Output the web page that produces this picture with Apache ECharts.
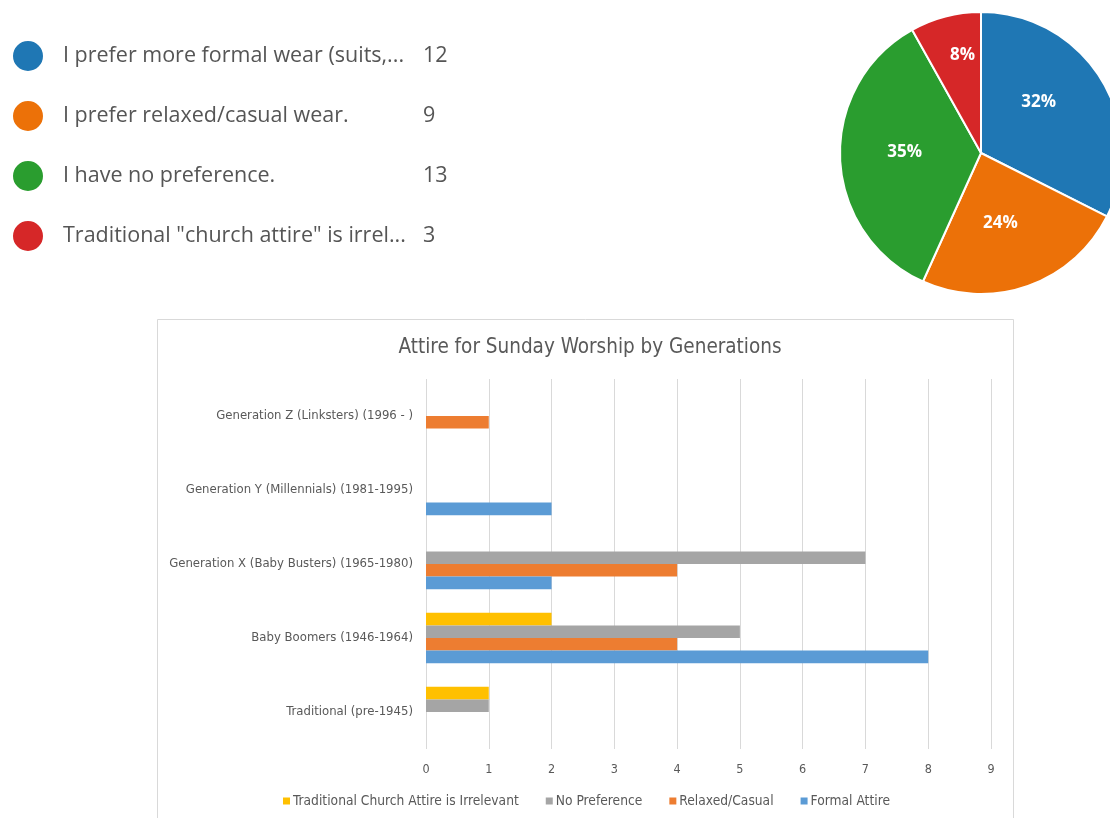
<!DOCTYPE html>
<html>
<head>
<meta charset="utf-8">
<title>Attire for Sunday Worship</title>
<script src="https://cdn.jsdelivr.net/npm/echarts@6/dist/echarts.min.js"></script>
<style>
  html, body { margin: 0; padding: 0; background: #ffffff; }
  #chart { width: 1110px; height: 818px; }
</style>
</head>
<body>
<div id="chart"></div>
<script>
// Survey answers: overall preference (pie)
const answerLabels = [
  'I prefer more formal wear (suits,...',
  'I prefer relaxed/casual wear.',
  'I have no preference.',
  'Traditional "church attire" is irrel...'
];
const answerCounts = [12, 9, 13, 3];
const answerColors = ['#1f77b4', '#ec7108', '#2a9d2f', '#d62728'];

// Breakdown by generation (horizontal bars)
const generations = [
  'Traditional (pre-1945)',
  'Baby Boomers (1946-1964)',
  'Generation X (Baby Busters) (1965-1980)',
  'Generation Y (Millennials) (1981-1995)',
  'Generation Z (Linksters) (1996 - )'
];
const attireIrrelevant = [1, 2, 0, 0, 0];
const noPreference     = [1, 5, 7, 0, 0];
const relaxedCasual    = [0, 4, 4, 0, 1];
const formalAttire     = [0, 8, 2, 2, 0];
const valueTicks = [0, 1, 2, 3, 4, 5, 6, 7, 8, 9];

// listed top-to-bottom within each generation group
const barSeriesNames = ['Traditional Church Attire is Irrelevant', 'No Preference', 'Relaxed/Casual', 'Formal Attire'];
const barSeriesData = [attireIrrelevant, noPreference, relaxedCasual, formalAttire];
const barColors = ['#ffc000', '#a5a5a5', '#ed7d31', '#5b9bd5'];

// small nudges of the percentage labels inside the slices
const pieLabelNudge = [[-5, -12], [-5, 1], [-3, -4], [0, -27]];

const total = answerCounts.reduce((a, b) => a + b, 0);
const narrow = "'Liberation Sans Narrow', 'DejaVu Sans Condensed', 'Liberation Sans', sans-serif";
const sans = "'Open Sans', 'Noto Sans', sans-serif";

const chart = echarts.init(document.getElementById('chart'), null, { renderer: 'canvas' });

const option = {
  animation: false,
  backgroundColor: '#ffffff',
  title: {
    text: 'Attire for Sunday Worship by Generations',
    left: 585,
    top: 332,
    textAlign: 'center',
    textStyle: { fontFamily: narrow, fontSize: 20.5, fontWeight: 'normal', color: '#595959' }
  },
  graphic: [{
    type: 'rect',
    shape: { x: 157.5, y: 319.5, width: 856, height: 520 },
    style: { fill: 'none', stroke: '#d9d9d9', lineWidth: 1 },
    silent: true,
    z: -10
  }],
  legend: [
    {
      orient: 'vertical',
      left: 11,
      top: 39,
      padding: 0,
      icon: 'circle',
      itemWidth: 32,
      itemHeight: 32,
      itemGap: 26,
      selectedMode: false,
      data: answerLabels,
      formatter: function (name) {
        const i = answerLabels.indexOf(name);
        return '{n|' + name + '}{v|' + answerCounts[i] + '}';
      },
      textStyle: {
        rich: {
          n: { width: 360, padding: [0, 0, 0, 14], fontFamily: sans, fontSize: 21.5, color: '#555555' },
          v: { fontFamily: sans, fontSize: 21.5, color: '#555555' }
        }
      }
    },
    {
      orient: 'horizontal',
      left: 283,
      top: 794,
      padding: 0,
      icon: 'rect',
      itemWidth: 7,
      itemHeight: 7,
      itemGap: 27,
      selectedMode: false,
      data: barSeriesNames,
      textStyle: { fontFamily: narrow, fontSize: 13.7, color: '#595959', padding: [0, 0, 0, -2] }
    }
  ],
  grid: {
    left: 426,
    top: 379,
    width: 565,
    height: 370,
    containLabel: false
  },
  xAxis: {
    type: 'value',
    min: valueTicks[0],
    max: valueTicks[valueTicks.length - 1],
    interval: 1,
    axisLine: { show: false },
    axisTick: { show: false },
    splitLine: { show: true, lineStyle: { color: '#d9d9d9', width: 1 } },
    axisLabel: { color: '#595959', fontFamily: narrow, fontSize: 12.5, margin: 14 }
  },
  yAxis: {
    type: 'category',
    data: generations,
    axisLine: { show: false },
    axisTick: { show: false },
    axisLabel: { color: '#595959', fontFamily: narrow, fontSize: 13, margin: 13 }
  },
  series: [
    {
      type: 'pie',
      center: [981, 153],
      radius: 141,
      startAngle: 90,
      clockwise: true,
      legendHoverLink: false,
      data: answerLabels.map((name, i) => ({
        name: name,
        value: answerCounts[i],
        itemStyle: { color: answerColors[i] }
      })),
      itemStyle: { borderColor: '#ffffff', borderWidth: 2 },
      label: {
        show: true,
        position: 'inside',
        formatter: p => Math.round(p.value / total * 100) + '%',
        color: '#ffffff',
        fontFamily: sans,
        fontWeight: 'bold',
        fontSize: 17
      },
      labelLayout: function (params) {
        const n = pieLabelNudge[params.dataIndex] || [0, 0];
        return { dx: n[0], dy: n[1] };
      },
      labelLine: { show: false },
      emphasis: { disabled: true }
    }
  ].concat(barSeriesNames.map((name, i) => ({
    type: 'bar',
    name: name,
    data: barSeriesData[i],
    itemStyle: { color: barColors[i] },
    barGap: '0%',
    barCategoryGap: '32%',
    emphasis: { disabled: true }
  })))
};

chart.setOption(option);
</script>
</body>
</html>
